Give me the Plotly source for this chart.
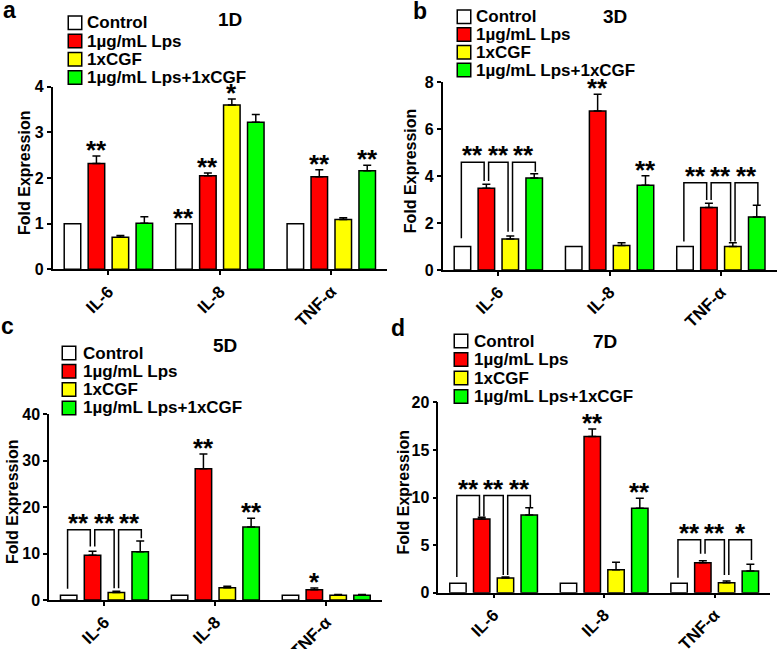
import plotly.graph_objects as go

W, H = 778, 649

categories = ["IL-6", "IL-8", "TNF-α"]
series_names = ["Control", "1µg/mL Lps", "1xCGF", "1µg/mL Lps+1xCGF"]
series_colors = ["#ffffff", "#ff0000", "#ffff00", "#00ff00"]
y_title = "Fold Expression"

# ---- Panel a (1D)
a_control = [1.0, 1.0, 1.0]
a_control_err = [0, 0, 0]
a_lps = [2.32, 2.05, 2.03]
a_lps_err = [0.16, 0.06, 0.15]
a_cgf = [0.70, 3.60, 1.09]
a_cgf_err = [0.04, 0.13, 0.04]
a_combo = [1.01, 3.22, 2.16]
a_combo_err = [0.14, 0.17, 0.12]
# (category, bar index, label)
a_stars = [(0, 1, "**"), (1, 0, "**"), (1, 1, "**"), (1, 2, "*"), (2, 1, "**"), (2, 3, "**")]
a_brackets = []

# ---- Panel b (3D)
b_control = [1.0, 1.0, 1.0]
b_control_err = [0, 0, 0]
b_lps = [3.48, 6.78, 2.66]
b_lps_err = [0.17, 0.71, 0.18]
b_cgf = [1.32, 1.04, 1.00]
b_cgf_err = [0.13, 0.12, 0.16]
b_combo = [3.92, 3.61, 2.26]
b_combo_err = [0.18, 0.41, 0.50]
b_stars = [(1, 1, "**"), (1, 3, "**")]
# (category, bar i, bar j, bracket top, left leg bottom, right leg bottom, label)
b_brackets = [
    (0, 0, 1, 4.59, 1.35, 3.79, "**"),
    (0, 1, 2, 4.59, 3.79, 1.63, "**"),
    (0, 2, 3, 4.59, 1.63, 4.19, "**"),
    (2, 0, 1, 3.72, 1.21, 2.98, "**"),
    (2, 1, 2, 3.72, 2.98, 1.21, "**"),
    (2, 2, 3, 3.72, 1.21, 2.77, "**"),
]

# ---- Panel c (5D)
c_control = [1.0, 1.0, 1.0]
c_control_err = [0, 0, 0]
c_lps = [9.6, 28.2, 2.2]
c_lps_err = [0.9, 3.2, 0.4]
c_cgf = [1.6, 2.65, 1.0]
c_cgf_err = [0.3, 0.3, 0.2]
c_combo = [10.4, 15.7, 1.0]
c_combo_err = [2.3, 1.9, 0.2]
c_stars = [(1, 1, "**"), (1, 3, "**"), (2, 1, "*")]
c_brackets = [
    (0, 0, 1, 15.1, 2.4, 11.5, "**"),
    (0, 1, 2, 15.1, 11.5, 2.5, "**"),
    (0, 2, 3, 15.1, 2.5, 13.3, "**"),
]

# ---- Panel d (7D)
d_control = [1.0, 1.0, 1.0]
d_control_err = [0, 0, 0]
d_lps = [7.74, 16.4, 3.15]
d_lps_err = [0.18, 0.8, 0.21]
d_cgf = [1.54, 2.42, 1.05]
d_cgf_err = [0.11, 0.77, 0.18]
d_combo = [8.16, 8.86, 2.28]
d_combo_err = [0.77, 1.05, 0.70]
d_stars = [(1, 1, "**"), (1, 3, "**")]
d_brackets = [
    (0, 0, 1, 10.2, 1.65, 8.0, "**"),
    (0, 1, 2, 10.2, 8.0, 1.86, "**"),
    (0, 2, 3, 10.2, 1.86, 9.0, "**"),
    (2, 0, 1, 5.57, 1.58, 4.1, "**"),
    (2, 1, 2, 5.57, 4.1, 1.86, "**"),
    (2, 2, 3, 5.57, 1.86, 3.43, "*"),
]

panel_data = [
    dict(letter="a", title="1D", ymax=4, dtick=1,
         vals=[a_control, a_lps, a_cgf, a_combo],
         errs=[a_control_err, a_lps_err, a_cgf_err, a_combo_err],
         stars=a_stars, brackets=a_brackets),
    dict(letter="b", title="3D", ymax=8, dtick=2,
         vals=[b_control, b_lps, b_cgf, b_combo],
         errs=[b_control_err, b_lps_err, b_cgf_err, b_combo_err],
         stars=b_stars, brackets=b_brackets),
    dict(letter="c", title="5D", ymax=40, dtick=10,
         vals=[c_control, c_lps, c_cgf, c_combo],
         errs=[c_control_err, c_lps_err, c_cgf_err, c_combo_err],
         stars=c_stars, brackets=c_brackets),
    dict(letter="d", title="7D", ymax=20, dtick=5,
         vals=[d_control, d_lps, d_cgf, d_combo],
         errs=[d_control_err, d_lps_err, d_cgf_err, d_combo_err],
         stars=d_stars, brackets=d_brackets),
]

# ---- layout geometry (pixels)
panel_geom = [
    dict(xpx=(52.7, 387), ypx=(269.3, 86.7), letter_pos=(9, 10), title_pos=(230, 20),
         ytitle_x=24, sq_x=75, text_x=87, leg_y0=22.7, leg_dy=18.3),
    dict(xpx=(442.7, 776.5), ypx=(270, 82.3), letter_pos=(420, 11), title_pos=(615, 17),
         ytitle_x=410, sq_x=464, text_x=476, leg_y0=16.7, leg_dy=17.8),
    dict(xpx=(49, 381.7), ypx=(600, 414), letter_pos=(8, 326), title_pos=(225, 345),
         ytitle_x=12, sq_x=69, text_x=83, leg_y0=353, leg_dy=18.3),
    dict(xpx=(438.3, 770), ypx=(592.7, 402.3), letter_pos=(398, 328), title_pos=(605, 341),
         ytitle_x=403, sq_x=461, text_x=474, leg_y0=341, leg_dy=18.5),
]

FONT = "Liberation Sans, Arial, sans-serif"
BARGAP = 0.14
GROUPGAP = 0.31
SLOT = (1 - BARGAP) / 4
LINEW = 1.5


def px(x):
    return x / W


def py(y):
    return 1 - y / H


def bar_center(cat, i):
    return cat - (1 - BARGAP) / 2 + SLOT * (i + 0.5)


fig = go.Figure()
annotations = []
shapes = []
layout_axes = {}
STAR_FONT = dict(family=FONT, size=26, color="black", weight="bold")

for k, (pd_, g) in enumerate(zip(panel_data, panel_geom)):
    n = "" if k == 0 else str(k + 1)
    xa, ya = "x" + n, "y" + n
    for s in range(4):
        errs = pd_["errs"][s]
        fig.add_trace(go.Bar(
            x=[0, 1, 2], y=pd_["vals"][s], name=series_names[s],
            xaxis=xa, yaxis=ya, showlegend=False,
            marker=dict(color=series_colors[s], line=dict(color="black", width=LINEW)),
            error_y=dict(type="data", array=errs, arrayminus=[0] * len(errs), symmetric=False,
                         color="black", thickness=LINEW, width=4, visible=any(e > 0 for e in errs)),
        ))
    # single stars
    for (cat, i, lab) in pd_["stars"]:
        top = pd_["vals"][i][cat] + pd_["errs"][i][cat]
        annotations.append(dict(x=bar_center(cat, i), y=top, xref=xa, yref=ya, text=lab,
                                showarrow=False, yanchor="bottom", yshift=-11, font=STAR_FONT))
    # brackets
    for (cat, i, j, top, lb, rb, lab) in pd_["brackets"]:
        xl = bar_center(cat, i) + (0.02 if i > 0 else -0.01)
        xr = bar_center(cat, j) - (0.02 if j < 3 else -0.01)
        fig.add_trace(go.Scatter(x=[xl, xl, xr, xr], y=[lb, top, top, rb], mode="lines",
                                 line=dict(color="black", width=LINEW), xaxis=xa, yaxis=ya,
                                 showlegend=False, hoverinfo="skip", cliponaxis=False))
        annotations.append(dict(x=(xl + xr) / 2, y=top, xref=xa, yref=ya, text=lab,
                                showarrow=False, yanchor="bottom", yshift=-10, font=STAR_FONT))
    x0, x1 = g["xpx"]
    yb, yt = g["ypx"]
    layout_axes["xaxis" + n] = dict(
        domain=[px(x0), px(x1)], range=[-0.5, 2.5], anchor=ya, automargin=False,
        tickvals=[0, 1, 2], ticktext=categories, tickangle=-45,
        ticks="outside", ticklen=4, tickwidth=LINEW, tickcolor="black",
        showline=True, linewidth=LINEW, linecolor="black", showgrid=False, zeroline=False,
        tickfont=dict(family=FONT, size=17, color="black", weight="bold"),
    )
    layout_axes["yaxis" + n] = dict(
        domain=[py(yb), py(yt)], range=[0, pd_["ymax"]], anchor=xa, dtick=pd_["dtick"],
        automargin=False,
        ticks="outside", ticklen=4, tickwidth=LINEW, tickcolor="black",
        showline=True, linewidth=LINEW, linecolor="black", showgrid=False, zeroline=False,
        tickfont=dict(family=FONT, size=16, color="black", weight="bold"),
    )
    # y-axis title
    annotations.append(dict(x=px(g["ytitle_x"]), y=py((yb + yt) / 2 - 5), xref="paper", yref="paper",
                            text=y_title, textangle=-90, showarrow=False,
                            xanchor="center", yanchor="middle",
                            font=dict(family=FONT, size=16, color="black", weight="bold")))
    # panel letter and title
    lx, ly = g["letter_pos"]
    annotations.append(dict(x=px(lx), y=py(ly), xref="paper", yref="paper", text=pd_["letter"],
                            showarrow=False, xanchor="center", yanchor="middle",
                            font=dict(family=FONT, size=23, color="black", weight="bold")))
    tx, ty = g["title_pos"]
    annotations.append(dict(x=px(tx), y=py(ty), xref="paper", yref="paper", text=pd_["title"],
                            showarrow=False, xanchor="center", yanchor="middle",
                            font=dict(family=FONT, size=19, color="black", weight="bold")))
    # legend (squares + labels)
    sq = 13.5
    for s in range(4):
        cy = g["leg_y0"] + s * g["leg_dy"]
        shapes.append(dict(type="rect", xref="paper", yref="paper",
                           x0=px(g["sq_x"] - sq / 2), x1=px(g["sq_x"] + sq / 2),
                           y0=py(cy + sq / 2), y1=py(cy - sq / 2),
                           fillcolor=series_colors[s], line=dict(color="black", width=LINEW)))
        annotations.append(dict(x=px(g["text_x"]), y=py(cy), xref="paper", yref="paper",
                                text=series_names[s], showarrow=False, xanchor="left",
                                yanchor="middle", xshift=-2,
                                font=dict(family=FONT, size=17, color="black", weight="bold")))

fig.update_layout(
    width=W, height=H, margin=dict(l=0, r=0, t=0, b=0, autoexpand=False),
    paper_bgcolor="white", plot_bgcolor="white",
    barmode="group", bargap=BARGAP, bargroupgap=GROUPGAP,
    annotations=annotations, shapes=shapes, showlegend=False,
    **layout_axes,
)

fig.write_html("out.html", config={"displayModeBar": False},
               post_script="document.body.style.margin='0px';")
